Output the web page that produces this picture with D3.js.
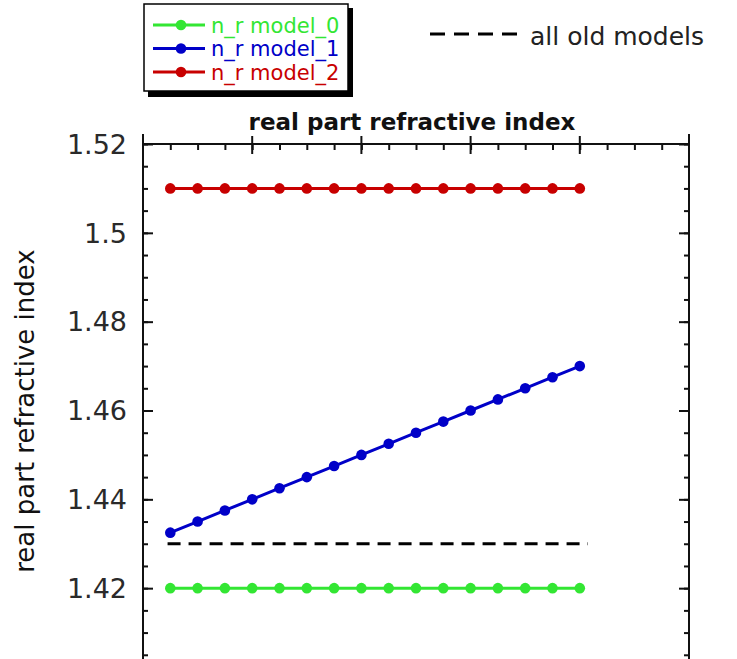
<!DOCTYPE html>
<html>
<head>
<meta charset="utf-8">
<script src="https://cdn.jsdelivr.net/npm/d3@7"></script>
<style>
  html, body { margin: 0; padding: 0; background: #fff; }
  svg { display: block; }
  text { font-family: "DejaVu Sans", sans-serif; }
</style>
</head>
<body>
<svg id="chart" width="737" height="659"></svg>
<script>
// Sample index along the spectral grid
const xIndex = [1, 2, 3, 4, 5, 6, 7, 8, 9, 10, 11, 12, 13, 14, 15, 16];

// Real part of the refractive index per model
const nrModel0 = [1.42, 1.42, 1.42, 1.42, 1.42, 1.42, 1.42, 1.42, 1.42, 1.42, 1.42, 1.42, 1.42, 1.42, 1.42, 1.42];
const nrModel1 = [1.4325, 1.435, 1.4375, 1.44, 1.4425, 1.445, 1.4475, 1.45, 1.4525, 1.455, 1.4575, 1.46, 1.4625, 1.465, 1.4675, 1.47];
const nrModel2 = [1.51, 1.51, 1.51, 1.51, 1.51, 1.51, 1.51, 1.51, 1.51, 1.51, 1.51, 1.51, 1.51, 1.51, 1.51, 1.51];
const nrOldModels = [1.43, 1.43];
const oldModelsX = [0.9, 16.3];

const seriesNames = ["n_r model_0", "n_r model_1", "n_r model_2"];
const yTickValues = [1.42, 1.44, 1.46, 1.48, 1.5, 1.52];
const yTickLabels = ["1.42", "1.44", "1.46", "1.48", "1.5", "1.52"];

const colors = ["#33e633", "#0000c8", "#c80000"];

(function () {
const svg = d3.select("#chart");

const left = 143, right = 689, top = 144, bottom = 677;

const x = d3.scaleLinear().domain([0, 20]).range([left, right]);
const y = d3.scaleLinear().domain([1.40, 1.52]).range([bottom, top]);

const frame = svg.append("g").attr("stroke", "#111").attr("stroke-width", 2).attr("fill", "none");
// Frame: side lines extend a little above the top edge
frame.append("line").attr("x1", left).attr("x2", left).attr("y1", top - 10).attr("y2", bottom);
frame.append("line").attr("x1", right).attr("x2", right).attr("y1", top - 10).attr("y2", bottom);
frame.append("line").attr("x1", left).attr("x2", right).attr("y1", top).attr("y2", top);
frame.append("line").attr("x1", left).attr("x2", right).attr("y1", bottom).attr("y2", bottom);

const styleTicks = g => {
  g.select(".domain").remove();
  g.selectAll("line").attr("stroke", "#111").attr("stroke-width", 2);
};

// Left axis: inward ticks, labels outside
const yMinor = d3.range(1.40, 1.5201, 0.005);
svg.append("g").attr("transform", `translate(${left},0)`)
  .call(d3.axisRight(y).tickValues(yMinor).tickSize(5).tickFormat("")).call(styleTicks);
svg.append("g").attr("transform", `translate(${left},0)`)
  .call(d3.axisRight(y).tickValues(yTickValues).tickSize(10).tickFormat("")).call(styleTicks);

// Right axis mirrors the left ticks
svg.append("g").attr("transform", `translate(${right},0)`)
  .call(d3.axisLeft(y).tickValues(yMinor).tickSize(5).tickFormat("")).call(styleTicks);
svg.append("g").attr("transform", `translate(${right},0)`)
  .call(d3.axisLeft(y).tickValues(yTickValues).tickSize(10).tickFormat("")).call(styleTicks);

// Y tick labels
svg.append("g").selectAll("text").data(yTickValues).join("text")
  .attr("x", left - 16).attr("y", d => y(d))
  .attr("dy", "0.36em")
  .attr("text-anchor", "end")
  .attr("font-size", 27)
  .attr("fill", "#2a2a2a")
  .text((d, i) => yTickLabels[i]);

// Top axis: inward minor ticks, major ticks crossing the edge
svg.append("g").attr("transform", `translate(0,${top})`)
  .call(d3.axisBottom(x).tickValues(d3.range(1, 20)).tickSize(6).tickFormat("")).call(styleTicks);
svg.append("g").selectAll("line").data([4, 8, 12, 16]).join("line")
  .attr("x1", d => x(d)).attr("x2", d => x(d))
  .attr("y1", top - 8).attr("y2", top + 10)
  .attr("stroke", "#111").attr("stroke-width", 2);

// Title
svg.append("text").attr("x", 412).attr("y", 130)
  .attr("text-anchor", "middle").attr("font-weight", "bold").attr("font-size", 23)
  .attr("fill", "#111")
  .text("real part refractive index");

// Y axis label
svg.append("text")
  .attr("transform", `translate(34,${411}) rotate(-90)`)
  .attr("text-anchor", "middle").attr("font-size", 26)
  .attr("fill", "#111")
  .text("real part refractive index");

// Old-models reference line
const line = d3.line().x(d => x(d[0])).y(d => y(d[1]));
svg.append("path")
  .datum(oldModelsX.map((v, i) => [v, nrOldModels[i]]))
  .attr("d", line)
  .attr("fill", "none").attr("stroke", "#000").attr("stroke-width", 3)
  .attr("stroke-dasharray", "13,8");

// Model series
const allSeries = [nrModel0, nrModel1, nrModel2];
allSeries.forEach((vals, k) => {
  const pts = xIndex.map((v, i) => [v, vals[i]]);
  svg.append("path").datum(pts).attr("d", line)
    .attr("fill", "none").attr("stroke", colors[k]).attr("stroke-width", 3);
  svg.append("g").selectAll("circle").data(pts).join("circle")
    .attr("cx", d => x(d[0])).attr("cy", d => y(d[1])).attr("r", 5.3)
    .attr("fill", colors[k]);
});

// Legend box with drop shadow
const lg = svg.append("g");
lg.append("rect").attr("x", 148).attr("y", 8).attr("width", 205).attr("height", 89).attr("fill", "#000");
lg.append("rect").attr("x", 144).attr("y", 4).attr("width", 204).attr("height", 87)
  .attr("fill", "#fff").attr("stroke", "#000").attr("stroke-width", 1.5);
const rowsY = [25, 48.5, 72];
seriesNames.forEach((name, k) => {
  lg.append("line").attr("x1", 153).attr("x2", 205).attr("y1", rowsY[k]).attr("y2", rowsY[k])
    .attr("stroke", colors[k]).attr("stroke-width", 3);
  lg.append("circle").attr("cx", 181).attr("cy", rowsY[k]).attr("r", 5.3).attr("fill", colors[k]);
  lg.append("text").attr("x", 211).attr("y", rowsY[k]).attr("dy", "0.36em")
    .attr("font-size", 21).attr("fill", colors[k]).text(name);
});

// Old-models legend entry
svg.append("line").attr("x1", 430).attr("x2", 520).attr("y1", 34).attr("y2", 34)
  .attr("stroke", "#000").attr("stroke-width", 3).attr("stroke-dasharray", "15,9");
svg.append("text").attr("x", 530).attr("y", 36).attr("dy", "0.36em")
  .attr("font-size", 25).attr("fill", "#222").text("all old models");
})();
</script>
</body>
</html>
